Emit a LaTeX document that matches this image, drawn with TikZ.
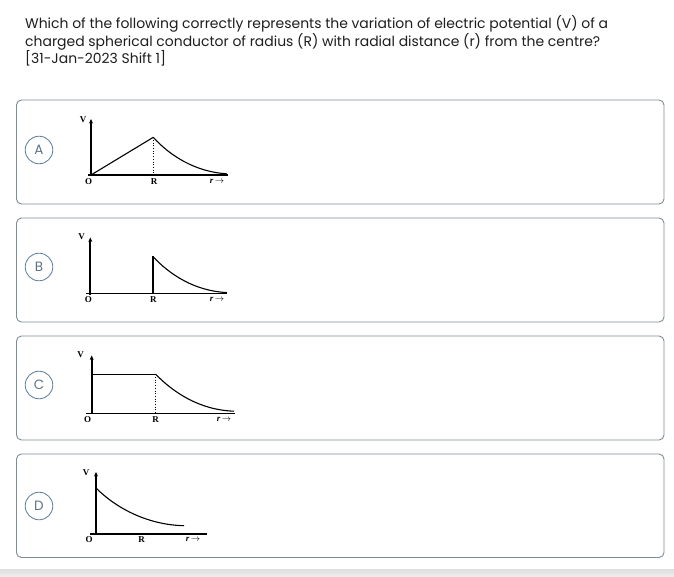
\documentclass[tikz,border=0pt]{standalone}
\usepackage{fontspec}
\setmainfont{Poppins}
\newfontfamily\lblfont{Liberation Serif}
\usetikzlibrary{arrows.meta}
\definecolor{boxgray}{HTML}{7F8C96}
\definecolor{circblue}{HTML}{5B7E9C}
\definecolor{lettergray}{HTML}{5F7386}
\definecolor{txt}{HTML}{1E1E1E}
\tikzset{
  optbox/.style={draw=boxgray, line width=0.9pt, rounded corners=5pt},
  optcirc/.style={circle, draw=circblue, line width=0.8pt, minimum size=27.6pt, inner sep=0pt,
    text=lettergray, font=\fontsize{13.5}{13.5}\selectfont},
  vaxis/.style={line width=1.7pt, -{Stealth[length=4.5pt,width=4pt]}},
  haxis/.style={line width=1.2pt},
  plotline/.style={line width=1.1pt},
  dotline/.style={line width=0.7pt, dotted},
  glabel/.style={font=\lblfont\bfseries\fontsize{9}{9}\selectfont, inner sep=0pt},
  qtext/.style={anchor=base west, inner sep=0pt, text=txt, font=\fontsize{13.95}{13.95}\selectfont},
}
\begin{document}
\begin{tikzpicture}[x=1pt,y=-1pt]
\useasboundingbox (0,0) rectangle (674,577);
\fill[white] (0,0) rectangle (674,577);
% bottom band
\shade[top color=black!13, bottom color=black!6] (0,569) rectangle (674,577);

% question text
\node[qtext] (q1) at (25,29) {Which of the following correctly represents the variation of electric potential (V) of a};
\node[qtext] (q2) at (25,46.5) {charged spherical conductor of radius (R) with radial distance (r) from the centre?};
\node[qtext] (q3) at (25,64) {[31-Jan-2023 Shift 1]};

% option boxes
\draw[optbox] (16.5,100) rectangle (664,204);
\draw[optbox] (16.5,218) rectangle (664,322);
\draw[optbox] (16.5,336) rectangle (664,440);
\draw[optbox] (16.5,454) rectangle (664,557.5);

\node[optcirc] (cA) at (39,150) {A};
\node[optcirc] (cB) at (39,267) {B};
\node[optcirc] (cC) at (39,385) {C};
\node[optcirc] (cD) at (39,506) {D};

% ---------- Graph A ----------
\coordinate (oA) at (91,175);
\coordinate (pA) at (153.3,137.3);
\draw[haxis] (88,175) -- (228,175);
\draw[vaxis] (91,176) -- (91,119);
\draw[plotline] (oA) -- (pA);
\draw[dotline] (pA) -- (153.3,175);
\draw[plotline] (pA) .. controls (170,156) and (196,172) .. (226.7,173.8);
\node[glabel] (vA) at (83,119.5) {V};
\node[glabel] (zA) at (88.5,181.5) {O};
\node[glabel] (rA) at (154,181.5) {R};
\node[glabel] (xA) at (217,181) {\itshape r\,$\rightarrow$};

% ---------- Graph B ----------
\coordinate (oB) at (90.3,293.7);
\coordinate (pB) at (152.7,256.3);
\draw[haxis] (86,293.7) -- (227,293.7);
\draw[vaxis] (90.3,294.5) -- (90.3,237.5);
\draw[line width=1.6pt] (152.7,293.7) -- (pB);
\draw[plotline] (pB) .. controls (170,275) and (195,291) .. (227,292.6);
\node[glabel] (vB) at (81.7,236.5) {V};
\node[glabel] (zB) at (88.3,300) {O};
\node[glabel] (rB) at (153.3,300) {R};
\node[glabel] (xB) at (217,299.5) {\itshape r\,$\rightarrow$};

% ---------- Graph C ----------
\coordinate (oC) at (91.7,413.3);
\coordinate (pC) at (155.7,374.3);
\draw[haxis] (86,413.3) -- (235,413.3);
\draw[vaxis] (91.7,414) -- (91.7,355.5);
\draw[plotline] (91.7,374.3) -- (pC);
\draw[dotline] (pC) -- (155.7,413.3);
\draw[plotline] (pC) .. controls (174,393) and (200,410) .. (234,411.2);
\node[glabel] (vC) at (80.7,354.5) {V};
\node[glabel] (zC) at (87.7,419.5) {O};
\node[glabel] (rC) at (155.7,419.5) {R};
\node[glabel] (xC) at (224,419) {\itshape r\,$\rightarrow$};

% ---------- Graph D ----------
\coordinate (oD) at (96,534);
\coordinate (pD) at (96,488);
\draw[haxis] (90,534) -- (207.3,534);
\draw[vaxis] (96,535) -- (96,472);
\draw[plotline] (pD) .. controls (118,510) and (150,525) .. (184,525.7);
\node[glabel] (vD) at (86,472.5) {V};
\node[glabel] (zD) at (89,540) {O};
\node[glabel] (rD) at (141.7,540) {R};
\node[glabel] (xD) at (193,539.7) {\itshape r\,$\rightarrow$};
\end{tikzpicture}
\end{document}
